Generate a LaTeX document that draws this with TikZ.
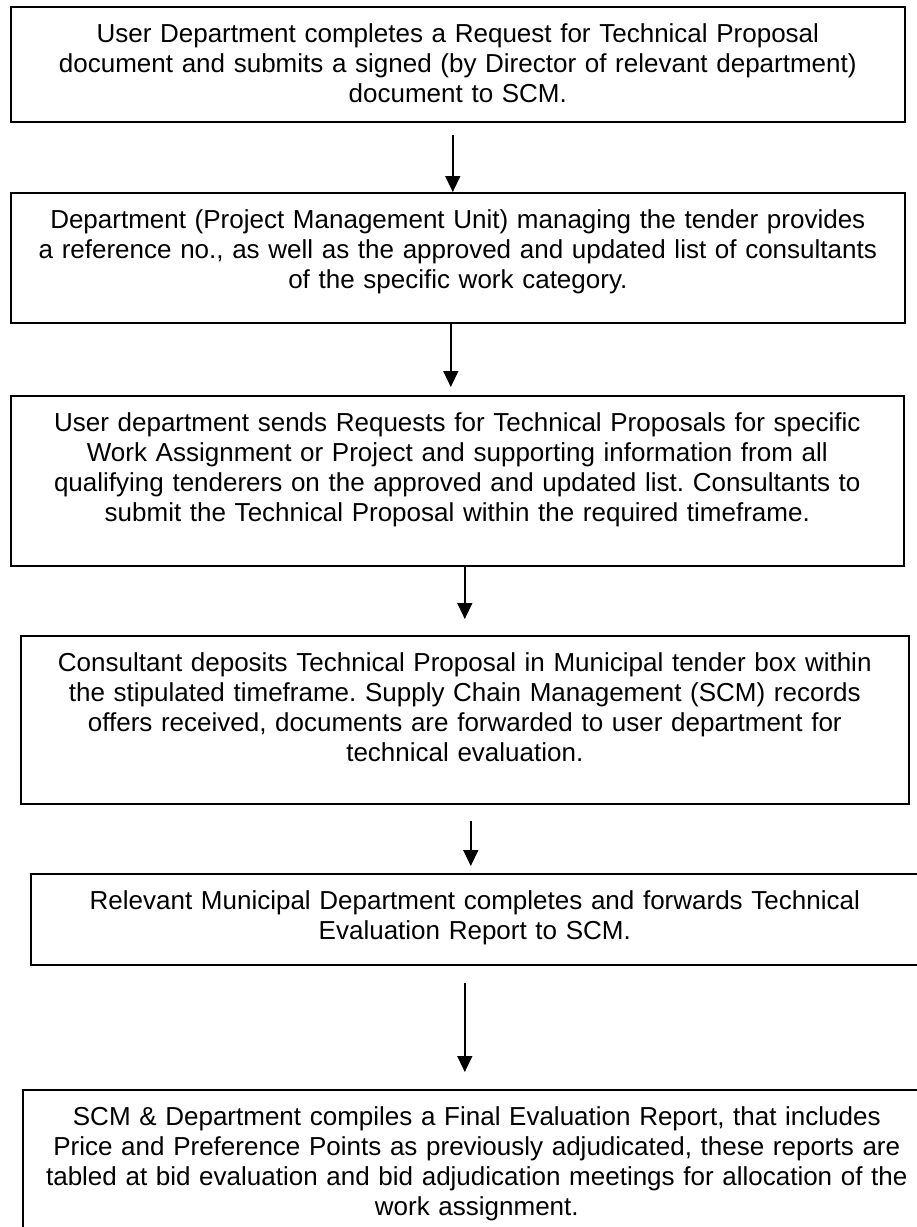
\documentclass[tikz,border=0pt]{standalone}
\usepackage{fontspec}
\setmainfont{Liberation Sans}
\usetikzlibrary{arrows.meta}
\frenchspacing

\begin{document}
\begin{tikzpicture}[
  x=1pt, y=-1pt,
  font=\fontsize{26}{30}\selectfont,
  stage/.style={draw, line width=1.6pt, anchor=north west, align=center,
                inner xsep=0pt, inner ysep=0pt, text height=36pt},
  ar/.style={-{Triangle[width=15pt,length=16pt]}, line width=1.4pt}
]
\useasboundingbox (0,0) rectangle (917,1227);

% ---- Request and reference -----------------------------------------------
\node[stage, text width=894pt, text depth=79pt] (req) at (10,6)
  {User Department completes a Request for Technical Proposal\\
   document and submits a signed (by Director of relevant department)\\
   document to SCM.};
\node[stage, text width=894pt, text depth=94pt] (ref) at (10,192)
  {Department (Project Management Unit) managing the tender provides\\
   a reference no., as well as the approved and updated list of consultants\\
   of the specific work category.};

% ---- Proposals -------------------------------------------------------------
\node[stage, text width=893pt, text depth=134pt] (send) at (10,395)
  {User department sends Requests for Technical Proposals for specific\\
   Work Assignment or Project and supporting information from all\\
   qualifying tenderers on the approved and updated list. Consultants to\\
   submit the Technical Proposal within the required timeframe.};
\node[stage, text width=888pt, text depth=132pt] (depo) at (20,635)
  {Consultant deposits Technical Proposal in Municipal tender box within\\
   the stipulated timeframe. Supply Chain Management (SCM) records\\
   offers received, documents are forwarded to user department for\\
   technical evaluation.};

% ---- Evaluation ------------------------------------------------------------
\node[stage, text width=888pt, text depth=55pt] (tech) at (30,873)
  {Relevant Municipal Department completes and forwards Technical\\
   Evaluation Report to SCM.};
\node[stage, text width=908pt, text depth=115pt] (final) at (22,1089)
  {SCM \& Department compiles a Final Evaluation Report, that includes\\
   Price and Preference Points as previously adjudicated, these reports are\\
   tabled at bid evaluation and bid adjudication meetings for allocation of the\\
   work assignment.};

% ---- Flow ------------------------------------------------------------------
\draw[ar] ([xshift=-5pt,yshift=-12pt]req.south) -- ([xshift=-5pt]ref.north);
\draw[ar] ([xshift=-7pt]ref.south) -- ([xshift=-6.5pt,yshift=8pt]send.north);
\draw[ar] ([xshift=7.5pt]send.south) -- ([yshift=16pt]depo.north);
\draw[ar] ([xshift=6pt,yshift=-16pt]depo.south) -- ([xshift=-4pt,yshift=7pt]tech.north);
\draw[ar] ([xshift=-10pt,yshift=-17pt]tech.south) -- ([xshift=-12pt,yshift=17pt]final.north);
\end{tikzpicture}
\end{document}
